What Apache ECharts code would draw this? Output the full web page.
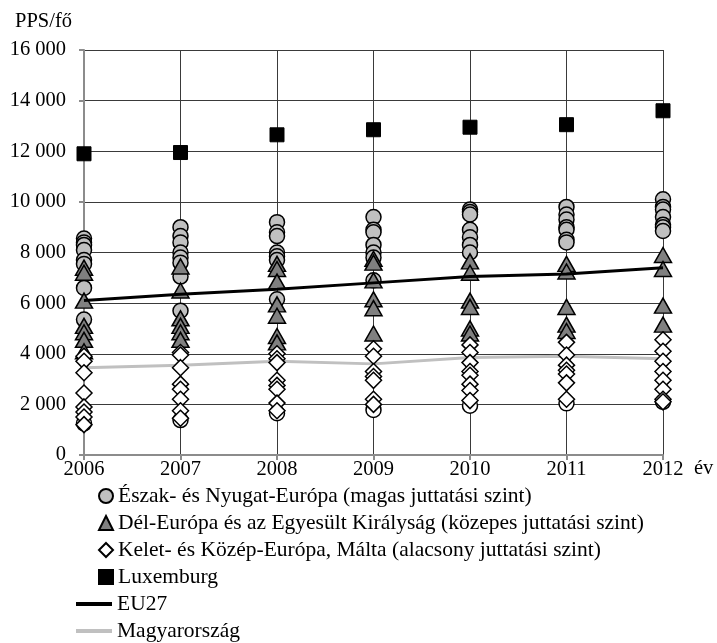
<!DOCTYPE html>
<html>
<head>
<meta charset="utf-8">
<script src="https://cdn.jsdelivr.net/npm/echarts@6/dist/echarts.min.js"></script>
<style>
  html, body { margin: 0; padding: 0; background: #fff; }
  #chart { width: 717px; height: 643px; }
</style>
</head>
<body>
<div id="chart"></div>
<script>
// Years on the horizontal axis
const years = ['2006', '2007', '2008', '2009', '2010', '2011', '2012'];

// Per-capita social protection benefits (PPS/fő); one inner list per year
const highLevel = [
  [8550, 8400, 8300, 8100, 7700, 7550, 6600, 5350],
  [9000, 8650, 8400, 8000, 7800, 7600, 7050, 5700],
  [9200, 8800, 8650, 8000, 7850, 7700, 6150],
  [9400, 8900, 8800, 8300, 8000, 7800, 6900],
  [9700, 9600, 9500, 8900, 8600, 8300, 8000],
  [9800, 9500, 9300, 9000, 8900, 8500, 8400],
  [10100, 9800, 9700, 9400, 9100, 9000, 8850]
];
const midLevel = [
  [7400, 7200, 6100, 5100, 4850, 4550, 4100],
  [7450, 6500, 5400, 5100, 4850, 4550],
  [7550, 7350, 6850, 5950, 5500, 4700, 4450],
  [7750, 7600, 6900, 6150, 5800, 4800],
  [7650, 7200, 6100, 5850, 5000, 4800],
  [7550, 7250, 5850, 5150, 4900],
  [7900, 7350, 5900, 5150]
];
const lowLevel = [
  [3900, 3700, 3250, 2450, 1900, 1700, 1500, 1200],
  [4050, 3950, 3450, 2800, 2600, 2200, 1750, 1450],
  [4000, 3800, 3650, 2950, 2750, 2600, 2050, 1750],
  [4200, 3900, 3300, 3100, 2950, 2200, 2000],
  [4350, 4050, 3650, 3300, 3150, 2800, 2550, 2150],
  [4450, 3950, 3550, 3350, 3200, 2850, 2200],
  [4550, 4100, 3700, 3300, 2950, 2600, 2200, 2100]
];
const lowestPoints = [1250, 1380, 1650, 1780, 1950, 2040, 2100];
const luxembourg = [11900, 11950, 12650, 12850, 12950, 13050, 13600];
const eu27 = [6100, 6350, 6550, 6800, 7050, 7150, 7400];
const hungary = [3450, 3550, 3700, 3600, 3850, 3900, 3800];

// Y-axis tick values
const yTicks = [0, 2000, 4000, 6000, 8000, 10000, 12000, 14000, 16000];

const NAME_HIGH = 'Észak- és Nyugat-Európa (magas juttatási szint)';
const NAME_MID = 'Dél-Európa és az Egyesült Királyság (közepes juttatási szint)';
const NAME_LOW = 'Kelet- és Közép-Európa, Málta (alacsony juttatási szint)';
const NAME_LUX = 'Luxemburg';
const NAME_EU = 'EU27';
const NAME_HU = 'Magyarország';

const FONT = 'Liberation Serif, Times New Roman, serif';
const FS = 20.5;
const LEGEND_FS = 21.5;
const LEGEND_TOP = 485;
const LEGEND_STEP = 27;

function flatten(groups) {
  const out = [];
  groups.forEach((vals, i) => vals.forEach(v => out.push([i, v])));
  return out;
}
function pairs(vals) {
  return vals.map((v, i) => [i, v]);
}
function fmt(v) {
  return String(v).replace(/\B(?=(\d{3})+(?!\d))/g, ' ');
}

const chart = echarts.init(document.getElementById('chart'), null, { renderer: 'canvas' });

const legendText = { fontSize: LEGEND_FS, fontFamily: FONT, color: '#000', lineHeight: 22, padding: 0 };

const option = {
  backgroundColor: '#ffffff',
  animation: false,
  textStyle: { fontFamily: FONT },
  grid: { left: 84, right: 54, top: 50, bottom: 188 },
  xAxis: {
    type: 'category',
    data: years,
    boundaryGap: false,
    axisLine: { lineStyle: { color: '#8c8c8c', width: 2 } },
    axisTick: { show: true, length: 5, lineStyle: { color: '#8c8c8c', width: 2 } },
    axisLabel: { color: '#000', fontSize: FS, fontFamily: FONT, margin: 4 },
    splitLine: { show: true, lineStyle: { color: '#3a3a3a', width: 1 } }
  },
  yAxis: {
    type: 'value',
    min: yTicks[0],
    max: yTicks[yTicks.length - 1],
    interval: yTicks[1] - yTicks[0],
    axisLine: { show: true, lineStyle: { color: '#8c8c8c', width: 2 } },
    axisTick: { show: true, length: 5, lineStyle: { color: '#8c8c8c', width: 2 } },
    axisLabel: { color: '#000', fontSize: FS, fontFamily: FONT, margin: 18, formatter: fmt },
    splitLine: { show: true, lineStyle: { color: '#3a3a3a', width: 1 } }
  },
  graphic: [
    { type: 'text', left: 15, top: 11, style: { text: 'PPS/fő', fontSize: FS, fontFamily: FONT, fill: '#000' } },
    { type: 'text', left: 694, top: 458, style: { text: 'év', fontSize: FS, fontFamily: FONT, fill: '#000' } }
  ],
  legend: [
    {
      orient: 'vertical',
      left: 98,
      top: LEGEND_TOP,
      height: 120,
      padding: 0,
      itemWidth: 14,
      itemHeight: 14,
      itemGap: LEGEND_STEP - 22,
      textStyle: legendText,
      data: [NAME_HIGH, NAME_MID, NAME_LOW, NAME_LUX]
    },
    {
      orient: 'vertical',
      left: 76,
      top: LEGEND_TOP + 4 * LEGEND_STEP,
      height: 60,
      padding: 0,
      itemWidth: 36,
      itemHeight: 4,
      itemGap: LEGEND_STEP - 22,
      textStyle: legendText,
      data: [
        { name: NAME_EU, icon: 'rect' },
        { name: NAME_HU, icon: 'rect' }
      ]
    }
  ],
  series: [
    {
      name: 'other',
      type: 'scatter',
      symbol: 'circle',
      symbolSize: 15,
      itemStyle: { color: '#ffffff', borderColor: '#000', borderWidth: 1.5, opacity: 1 },
      data: pairs(lowestPoints)
    },
    {
      name: NAME_HIGH,
      type: 'scatter',
      symbol: 'circle',
      symbolSize: 15,
      itemStyle: { color: '#c0c0c0', borderColor: '#000', borderWidth: 1.5, opacity: 1 },
      data: flatten(highLevel)
    },
    {
      name: NAME_MID,
      type: 'scatter',
      symbol: 'triangle',
      symbolSize: [17, 15],
      itemStyle: { color: '#808080', borderColor: '#000', borderWidth: 1.5, opacity: 1 },
      data: flatten(midLevel)
    },
    {
      name: NAME_LOW,
      type: 'scatter',
      symbol: 'diamond',
      symbolSize: [16, 16],
      itemStyle: { color: '#ffffff', borderColor: '#000', borderWidth: 1.5, opacity: 1 },
      data: flatten(lowLevel)
    },
    {
      name: NAME_LUX,
      type: 'scatter',
      symbol: 'rect',
      symbolSize: 14,
      itemStyle: { color: '#000000', borderColor: '#000', borderWidth: 1, opacity: 1 },
      data: pairs(luxembourg)
    },
    {
      name: NAME_EU,
      type: 'line',
      symbol: 'none',
      z: 4,
      lineStyle: { color: '#000000', width: 3 },
      itemStyle: { color: '#000000' },
      data: pairs(eu27)
    },
    {
      name: NAME_HU,
      type: 'line',
      symbol: 'none',
      z: 1,
      lineStyle: { color: '#c0c0c0', width: 3 },
      itemStyle: { color: '#c0c0c0' },
      data: pairs(hungary)
    }
  ]
};

chart.setOption(option);
</script>
</body>
</html>
